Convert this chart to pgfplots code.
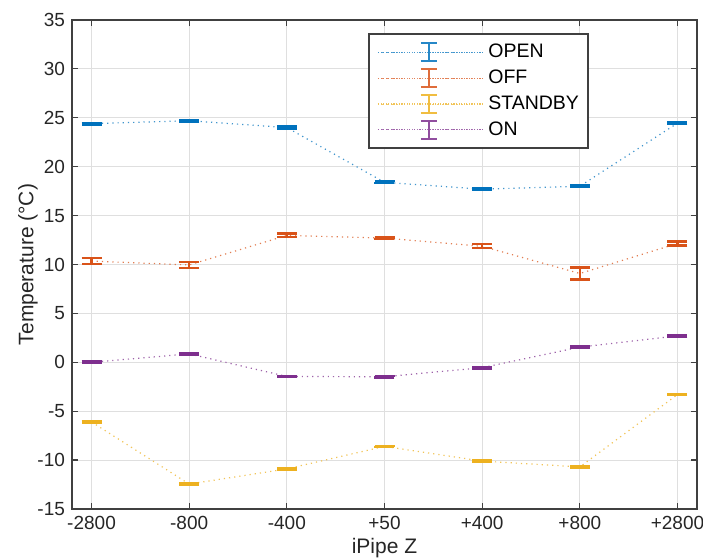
\documentclass[border=0pt]{standalone}
\usepackage{fontspec}
\setmainfont{Liberation Sans}
\usepackage{pgfplots}
\pgfplotsset{compat=1.18}
\definecolor{mOpen}{rgb}{0,0.447,0.741}
\definecolor{mOff}{rgb}{0.85,0.325,0.098}
\definecolor{mStandby}{rgb}{0.929,0.694,0.125}
\definecolor{mOn}{rgb}{0.494,0.184,0.556}
\pgfplotsset{
  ebstyle/.style={
    dotted, line width=0.6pt, color=#1!75, mark=none,
    error bars/y dir=both, error bars/y explicit,
    error bars/error bar style={solid, line width=1.1pt, color=#1},
    error bars/error mark options={solid, line width=1.1pt, mark size=5pt, rotate=90, color=#1},
    legend image code/.code={
      \path (-2pt,0pt) rectangle (51pt,0pt);
      \draw[dotted, line width=0.5pt, #1!65] (0pt,0pt) -- (47pt,0pt);
      \draw[solid, line width=1.1pt, #1!85] (23.5pt,-4.5pt) -- (23.5pt,4.5pt)
        (19.5pt,-4.5pt) -- (27.5pt,-4.5pt) (19.5pt,4.5pt) -- (27.5pt,4.5pt);
    }
  },
}
\begin{document}
\begin{tikzpicture}
\begin{axis}[
  at={(0,0)}, anchor=south west,
  scale only axis, width=312.5pt, height=244.5pt,
  xmin=-0.2, xmax=6.2, ymin=-15, ymax=35,
  xtick={0,1,2,3,4,5,6},
  xticklabels={-2800,-800,-400,+50,+400,+800,+2800},
  ytick={-15,-10,...,35},
  /pgf/number format/assume math mode=true,
  tick label style={font=\fontsize{9.5}{10}\selectfont, color=black!85},
  grid=major, major grid style={gray!25, line width=0.5pt},
  axis line style={black!75, line width=0.9pt},
  tick align=inside, major tick length=3pt,
  tick style={black!75, line width=0.6pt},
  xlabel={iPipe Z}, ylabel={Temperature (°C)},
  label style={font=\fontsize{10.5}{12}\selectfont, color=black!85},
  xlabel style={at={(axis description cs:0.5,0)}, anchor=center, yshift=-19.5pt},
  ylabel style={at={(axis description cs:0,0.5)}, anchor=center, yshift=22pt},
  legend style={at={(0.474,0.973)}, anchor=north west, draw=black!75, line width=0.9pt,
    font=\fontsize{9.75}{10}\selectfont, inner xsep=4pt, inner ysep=3pt,
    row sep=0.6pt, text width=44pt},
  legend cell align=left,
]
\addplot[ebstyle=mOpen] coordinates {
 (0,24.4) +- (0,0.1)
 (1,24.7) +- (0,0.1)
 (2,24.0) +- (0,0.1)
 (3,18.4) +- (0,0.1)
 (4,17.7) +- (0,0.1)
 (5,18.0) +- (0,0.1)
 (6,24.45) +- (0,0.1)
};
\addlegendentry{OPEN}
\addplot[ebstyle=mOff] coordinates {
 (0,10.35) +- (0,0.3)
 (1,9.95) +- (0,0.3)
 (2,12.97) +- (0,0.2)
 (3,12.7) +- (0,0.06)
 (4,11.86) +- (0,0.2)
 (5,9.08) +- (0,0.62)
 (6,12.15) +- (0,0.2)
};
\addlegendentry{OFF}
\addplot[ebstyle=mStandby] coordinates {
 (0,-6.1) +- (0,0.08)
 (1,-12.45) +- (0,0.08)
 (2,-10.9) +- (0,0.08)
 (3,-8.6) +- (0,0.08)
 (4,-10.1) +- (0,0.08)
 (5,-10.7) +- (0,0.08)
 (6,-3.3) +- (0,0.08)
};
\addlegendentry{STANDBY}
\addplot[ebstyle=mOn] coordinates {
 (0,0.0) +- (0,0.08)
 (1,0.86) +- (0,0.08)
 (2,-1.45) +- (0,0.08)
 (3,-1.48) +- (0,0.08)
 (4,-0.55) +- (0,0.08)
 (5,1.55) +- (0,0.08)
 (6,2.7) +- (0,0.08)
};
\addlegendentry{ON}
\end{axis}
\pgfresetboundingbox
\path[use as bounding box] (-36pt,-25.5pt) rectangle (315.5pt,254.5pt);
\end{tikzpicture}
\end{document}
